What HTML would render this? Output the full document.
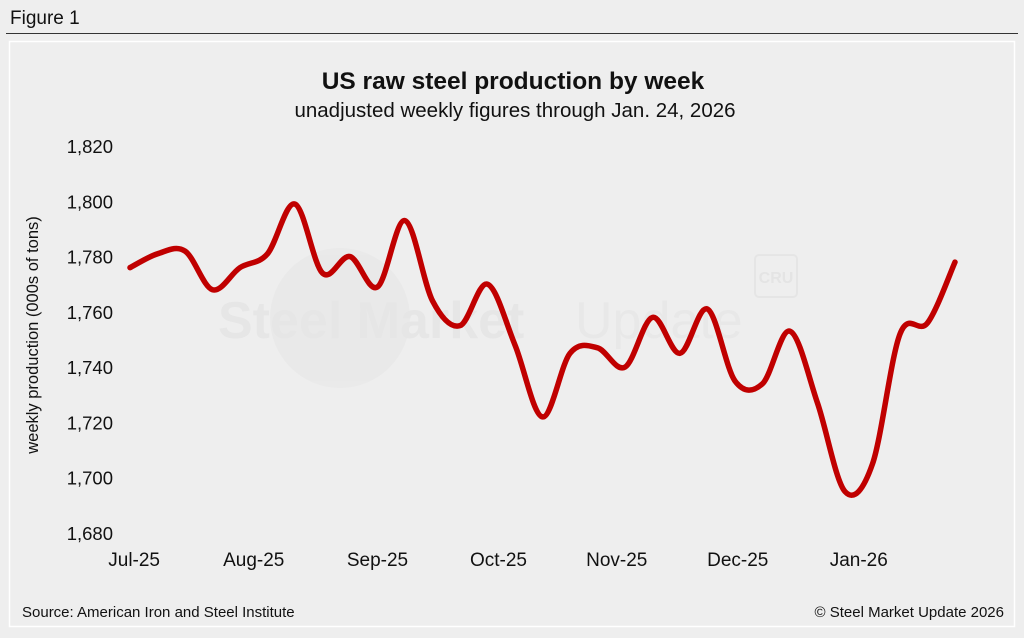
<!DOCTYPE html>
<html><head><meta charset="utf-8"><style>
body{margin:0;width:1024px;height:633px;background:#eeeeee;font-family:"Liberation Sans",Arial,sans-serif;overflow:hidden}
</style></head><body>
<svg id="chart" width="1024" height="633" xmlns="http://www.w3.org/2000/svg">
<rect x="0" y="0" width="1024" height="633" fill="#eeeeee"/>
<text x="10" y="24" font-size="19" fill="#111">Figure 1</text>
<line x1="6" y1="33.5" x2="1018" y2="33.5" stroke="#333" stroke-width="1"/>
<rect x="9.5" y="41.5" width="1005" height="585" fill="#eeeeee" stroke="#ffffff" stroke-width="1.5"/>
<text x="513" y="89" font-size="24.5" font-weight="bold" text-anchor="middle" fill="#111">US raw steel production by week</text>
<text x="515" y="117" font-size="20.5" text-anchor="middle" fill="#111">unadjusted weekly figures through Jan. 24, 2026</text>
<g opacity="0.45">
<circle cx="340" cy="318" r="70" fill="#e4e4e4"/>
<text x="218" y="338" font-size="52" font-weight="bold" fill="#dedede">Steel Market</text>
<text x="575" y="338" font-size="52" fill="#e2e2e2">Update</text>
<rect x="755" y="255" width="42" height="42" rx="4" fill="none" stroke="#dcdcdc" stroke-width="2"/>
<text x="776" y="283" font-size="16" font-weight="bold" text-anchor="middle" fill="#d8d8d8">CRU</text>
</g>
<g id="yaxis"></g>
<g id="xaxis"></g>
<text transform="translate(38,335) rotate(-90)" font-size="16.5" text-anchor="middle" fill="#111">weekly production (000s of tons)</text>
<g id="series"></g>
<text x="22" y="617" font-size="15" fill="#111">Source: American Iron and Steel Institute</text>
<text x="1004" y="617" font-size="15" text-anchor="end" fill="#111">© Steel Market Update 2026</text>
</svg>
<script>
const yTicks=[1680,1700,1720,1740,1760,1780,1800,1820];
const yTickLabels=["1,680","1,700","1,720","1,740","1,760","1,780","1,800","1,820"];
const monthLabels=["Jul-25","Aug-25","Sep-25","Oct-25","Nov-25","Dec-25","Jan-26"];
const monthWeekIndex=[0.15,4.5,9.0,13.4,17.7,22.1,26.5];
const production=[1776,1781,1782,1768,1776,1781,1799,1774,1780,1769,1793,1764,1755,1770,1748,1722,1745,1747,1740,1758,1745,1761,1735,1734,1753,1727,1695,1705,1752,1756,1778];
const NS="http://www.w3.org/2000/svg";
function yS(v){return 533+(v-1680)*(146-533)/140;}
function xS(i){return 130+i*27.5;}
const ya=document.getElementById('yaxis');
yTicks.forEach((t,k)=>{const e=document.createElementNS(NS,'text');
e.setAttribute('x',113);e.setAttribute('y',yS(t)+7);e.setAttribute('text-anchor','end');e.setAttribute('font-size','18.5');e.setAttribute('fill','#111');
e.textContent=yTickLabels[k];


ya.appendChild(e);});
const xa=document.getElementById('xaxis');
monthLabels.forEach((m,k)=>{const e=document.createElementNS(NS,'text');
e.setAttribute('x',xS(monthWeekIndex[k]));e.setAttribute('y',566);e.setAttribute('text-anchor','middle');e.setAttribute('font-size','19');e.setAttribute('fill','#111');
e.textContent=m;


xa.appendChild(e);});
const pts=production.map((v,i)=>[xS(i),yS(v)]);
let d='M'+pts[0][0]+','+pts[0][1];
for(let i=0;i<pts.length-1;i++){const p0=pts[Math.max(0,i-1)],p1=pts[i],p2=pts[i+1],p3=pts[Math.min(pts.length-1,i+2)];
const c1=[p1[0]+(p2[0]-p0[0])/6,p1[1]+(p2[1]-p0[1])/6],c2=[p2[0]-(p3[0]-p1[0])/6,p2[1]-(p3[1]-p1[1])/6];
d+=' C'+c1[0]+','+c1[1]+' '+c2[0]+','+c2[1]+' '+p2[0]+','+p2[1];}
const path=document.createElementNS(NS,'path');
path.setAttribute('d',d);path.setAttribute('fill','none');path.setAttribute('stroke','#c00000');path.setAttribute('stroke-width','5.5');path.setAttribute('stroke-linejoin','round');path.setAttribute('stroke-linecap','round');


document.getElementById('series').appendChild(path);
</script>
</body></html>
